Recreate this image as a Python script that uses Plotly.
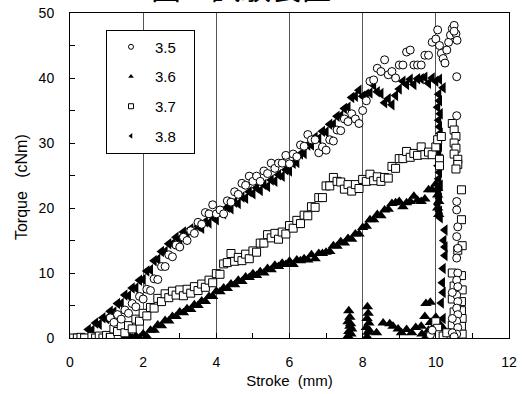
import plotly.graph_objects as go

FONT = "Liberation Sans, Arial, sans-serif"

# ---- 3.5 : open circles -------------------------------------------------
x35 = [1.1, 1.2, 1.3, 1.4, 1.5, 1.6, 1.7, 1.8, 1.9, 2.0,
       2.1, 2.2, 2.3, 2.4, 2.5, 2.6, 2.7, 2.8, 2.9, 3.0,
       3.1, 3.2, 3.3, 3.4, 3.5, 3.6, 3.7, 3.8, 3.9, 4.0,
       4.1, 4.2, 4.3, 4.4, 4.5, 4.6, 4.7, 4.8, 4.9, 5.0,
       5.1, 5.2, 5.3, 5.4, 5.5, 5.6, 5.7, 5.8, 5.9, 6.0,
       6.1, 6.2, 6.3, 6.4, 6.5, 6.6, 6.7, 6.8, 6.9, 7.0,
       7.1, 7.2, 7.3, 7.4, 7.5, 7.6, 7.7, 7.8, 7.9, 8.0,
       8.1, 8.2, 8.3, 8.4, 8.5, 8.6, 8.7, 8.8, 8.9, 9.0,
       9.1, 9.2, 9.3, 9.4, 9.5, 9.6, 9.7, 9.8, 9.9, 10.0,
       10.05, 10.1, 10.15, 10.2, 10.25, 10.3, 10.35, 10.4, 10.45, 10.5,
       10.55, 10.58, 10.5,
       10.57, 10.57, 10.57, 10.57, 10.6, 10.57, 10.6, 10.57, 10.6, 10.57,
       10.6, 10.57, 10.6, 10.57, 10.6, 10.57, 10.6, 10.57, 10.45, 10.45,
       10.45, 10.5, 9.85, 9.9]
y35 = [3.1, 2.4, 3.6, 2.9, 4.3, 3.8, 5.3, 4.8, 6.4, 6.0,
       7.5, 7.3, 9.1, 9.0, 11.0, 11.0, 12.8, 12.5, 14.3, 14.0,
       15.5, 15.0, 16.5, 16.1, 17.8, 17.5, 19.3, 19.1, 20.5, 19.1,
       19.7, 19.1, 21.1, 20.9, 22.5, 22.1, 23.8, 23.5, 24.9, 24.1,
       24.9, 24.1, 25.7, 25.3, 26.9, 26.1, 26.9, 26.9, 28.1, 26.8,
       28.3, 27.9, 29.7, 29.5, 31.3, 30.5, 30.5, 28.5, 29.4, 28.9,
       30.5, 30.3, 32.0, 31.9, 33.7, 33.3, 34.5, 33.7, 33.0, 35.0,
       36.5, 39.5, 39.7, 41.5, 41.0, 42.8, 40.5, 41.0, 40.0, 42.0,
       42.0, 44.0, 44.3, 42.0, 42.0, 42.0, 43.5, 43.5, 45.5, 46.0,
       47.4, 45.0, 43.8, 43.0, 42.3, 44.3, 45.5, 46.6, 47.6, 48.1,
       46.8, 45.8, 47.2,
       40.2, 34.2, 21.0, 19.7, 17.1, 15.6, 13.8, 12.3, 10.0, 8.9,
       7.9, 6.6, 5.6, 4.6, 3.6, 2.6, 1.6, 0.6, 7.0, 3.0,
       0.8, 0.2, 0.5, 1.2]

# ---- 3.6 : filled up-triangles ------------------------------------------
x36 = [1.5, 1.6, 1.7, 1.8, 1.9, 2.0, 2.1, 2.2, 2.3, 2.4,
       2.5, 2.6, 2.7, 2.8, 2.9, 3.0, 3.1, 3.2, 3.3, 3.4,
       3.5, 3.6, 3.7, 3.8, 3.9, 4.0, 4.1, 4.2, 4.3, 4.4,
       4.5, 4.6, 4.7, 4.8, 4.9, 5.0, 5.1, 5.2, 5.3, 5.4,
       5.5, 5.6, 5.7, 5.8, 5.9, 6.0, 6.1, 6.2, 6.3, 6.4,
       6.5, 6.6, 6.7, 6.8, 6.9, 7.0, 7.1, 7.2, 7.3, 7.4,
       7.5, 7.6, 7.7, 7.8, 7.9, 8.0, 8.1, 8.2, 8.3, 8.4,
       8.5, 8.6, 8.7, 8.8, 8.9, 9.0, 9.1, 9.2, 9.3, 9.4,
       9.5, 9.6, 9.7, 9.8, 9.9, 10.0,
       10.05, 10.05, 10.08, 10.05, 10.08,
       7.60, 7.62, 7.65, 7.60, 7.65, 7.62, 7.68, 7.70, 7.67,
       8.12, 8.15, 8.10, 8.17, 8.12, 8.15, 8.13, 8.18,
       8.38, 8.56, 8.74, 8.83, 8.97, 9.06, 9.20, 9.34, 9.45, 9.60,
       9.70, 9.73, 9.62, 9.75, 9.80, 9.85, 9.90, 9.95, 10.00, 10.05,
       10.10, 10.15, 10.20, 9.85]
y36 = [0.1, 0.4, 0.0, 0.3, 0.0, 0.6, 0.2, 1.2, 1.2, 2.0,
       1.9, 2.7, 2.6, 3.3, 3.3, 4.0, 3.9, 4.5, 4.4, 5.1,
       5.0, 5.7, 5.6, 6.4, 6.4, 7.2, 7.1, 7.7, 7.6, 8.3,
       8.2, 8.9, 8.7, 9.4, 9.3, 9.9, 9.6, 10.2, 10.0, 10.7,
       10.5, 11.2, 11.0, 11.5, 11.3, 11.8, 11.3, 12.0, 11.9, 12.2,
       12.0, 12.8, 12.2, 13.0, 13.0, 13.2, 13.3, 14.2, 14.1, 14.8,
       14.6, 15.3, 15.2, 16.0, 16.0, 17.0, 17.2, 18.2, 18.2, 19.0,
       18.8, 19.7, 19.8, 20.7, 20.8, 21.0, 20.2, 20.8, 21.0, 21.8,
       21.2, 21.0, 21.4, 22.8, 22.8, 23.7,
       23.0, 22.0, 21.0, 20.0, 19.0,
       0.3, 1.0, 1.8, 2.5, 3.2, 4.2, 0.6, 1.4, 2.2,
       0.2, 0.9, 1.6, 2.3, 3.0, 3.8, 4.8, 1.2,
       0.8, 2.3, 2.2, 1.8, 1.4, 0.8, 1.3, 0.8, 1.6, 1.8,
       3.3, 5.3, 0.6, 0.3, 1.2, 2.4, 0.5, 1.8, 3.2, 0.8,
       2.2, 0.3, 1.5, 5.5]

# ---- 3.7 : open squares -------------------------------------------------
x37 = [0.1, 0.2, 0.3, 0.4, 0.6, 0.7, 0.8, 0.9, 1.0, 1.1,
       1.2, 1.3, 1.4, 1.5, 1.6, 1.7, 1.8, 1.9, 2.0, 2.1,
       2.2, 2.3, 2.4, 2.5, 2.6, 2.7, 2.8, 2.9, 3.0, 3.1,
       3.2, 3.3, 3.4, 3.5, 3.6, 3.7, 3.8, 3.9, 4.0, 4.1,
       4.2, 4.3, 4.4, 4.5, 4.6, 4.7, 4.8, 4.9, 5.0, 5.1,
       5.2, 5.3, 5.4, 5.5, 5.6, 5.7, 5.8, 5.9, 6.0, 6.1,
       6.2, 6.3, 6.4, 6.5, 6.6, 6.7, 6.8, 6.9, 7.0, 7.1,
       7.2, 7.3, 7.4, 7.5, 7.6, 7.7, 7.8, 7.9, 8.0, 8.1,
       8.2, 8.3, 8.4, 8.5, 8.6, 8.7, 8.8, 8.9, 9.0, 9.1,
       9.2, 9.3, 9.4, 9.5, 9.6, 9.7, 9.8, 9.9, 10.0,
       10.05, 10.1, 10.15, 10.1,
       10.45, 10.5, 10.55, 10.5, 10.55, 10.5, 10.6, 10.6, 10.55, 10.7,
       10.7, 10.72, 10.6, 10.7, 10.72, 10.7, 10.7, 10.72, 10.7, 10.72,
       10.45, 10.5, 10.45, 10.5, 10.45, 10.5, 9.9, 9.95, 10.0, 10.05,
       10.1, 10.2, 10.3]
y37 = [0.0, 0.0, 0.1, 0.0, 0.2, 0.0, 0.3, 0.0, 0.4, 0.1,
       1.4, 1.0, 1.9, 0.8, 1.9, 1.4, 2.9, 2.6, 3.8, 3.4,
       4.7, 4.6, 6.1, 5.6, 6.8, 6.2, 7.2, 6.6, 7.4, 6.5,
       7.5, 6.9, 7.9, 7.3, 8.3, 7.8, 8.9, 8.5, 9.9, 9.8,
       11.4, 11.6, 13.0, 11.8, 12.4, 11.9, 12.9, 12.2, 13.4, 13.2,
       14.6, 14.6, 15.9, 15.4, 16.1, 15.2, 16.3, 16.0, 17.3, 16.9,
       18.1, 17.6, 18.9, 18.8, 20.2, 20.1, 21.6, 21.6, 23.4, 23.4,
       24.7, 24.1, 24.0, 22.9, 23.6, 22.6, 23.6, 23.0, 24.4, 24.1,
       25.2, 24.2, 24.8, 24.1, 24.7, 24.6, 26.4, 26.1, 27.6, 27.6,
       28.7, 27.8, 28.4, 28.1, 29.4, 28.2, 28.6, 28.2, 29.4,
       30.5, 27.5, 31.0, 26.5,
       33.0, 32.0, 31.0, 30.0, 29.2, 28.3, 27.5, 26.7, 26.0, 22.8,
       18.2, 14.2, 13.5, 9.6, 7.4, 5.6, 4.2, 3.0, 1.8, 0.6,
       10.0, 8.0, 6.0, 4.0, 2.0, 0.4, 1.0, 0.2, 2.5, 1.5,
       0.5, 0.3, 0.8]

# ---- 3.8 : filled left-triangles ----------------------------------------
x38 = [0.5, 0.6, 0.7, 0.8, 0.9, 1.0, 1.1, 1.2, 1.3, 1.4,
       1.5, 1.6, 1.7, 1.8, 1.9, 2.0, 2.1, 2.2, 2.3, 2.4,
       2.5, 2.6, 2.7, 2.8, 2.9, 3.0, 3.1, 3.2, 3.3, 3.4,
       3.5, 3.6, 3.7, 3.8, 3.9, 4.0, 4.1, 4.2, 4.3, 4.4,
       4.5, 4.6, 4.7, 4.8, 4.9, 5.0, 5.1, 5.2, 5.3, 5.4,
       5.5, 5.6, 5.7, 5.8, 5.9, 6.0, 6.1, 6.2, 6.3, 6.4,
       6.5, 6.6, 6.7, 6.8, 6.9, 7.0, 7.1, 7.2, 7.3, 7.4,
       7.5, 7.6, 7.7, 7.8, 7.9, 8.0, 8.1, 8.2, 8.3, 8.4,
       8.5, 8.6, 8.7, 8.8, 8.9, 9.0, 9.1, 9.2, 9.3, 9.4,
       9.5, 9.6, 9.7, 9.8, 9.9, 10.0, 10.1, 10.2,
       10.08, 10.10, 10.05, 10.12, 10.08, 10.10, 10.12, 10.06, 10.10, 10.08,
       10.12, 10.06, 10.10, 10.08, 10.12, 10.08, 10.10, 10.06, 10.10, 10.12,
       10.25, 10.22, 10.25, 10.20, 10.18, 10.15, 10.20, 10.10, 10.15, 10.25,
       10.20]
y38 = [1.3, 1.2, 2.3, 2.1, 3.1, 3.0, 4.1, 4.0, 5.3, 5.3,
       6.6, 6.5, 7.7, 7.7, 8.9, 9.0, 10.3, 10.5, 11.9, 12.1,
       13.3, 13.3, 14.5, 14.5, 15.5, 15.3, 16.3, 15.9, 16.8, 16.4,
       17.2, 16.9, 17.9, 17.7, 18.6, 18.2, 19.3, 19.1, 20.1, 19.9,
       20.9, 20.7, 21.7, 21.5, 22.5, 22.2, 23.1, 22.7, 23.6, 23.3,
       24.3, 24.1, 25.1, 24.9, 25.9, 25.7, 26.9, 27.0, 28.3, 28.4,
       29.7, 29.7, 30.9, 30.7, 31.8, 31.7, 32.9, 32.9, 34.1, 34.2,
       35.3, 35.5, 37.0, 37.2, 38.1, 37.2, 37.5, 37.7, 38.9, 37.9,
       37.6, 36.2, 36.8, 35.9, 37.3, 38.3, 39.5, 39.0, 39.8, 39.0,
       39.9, 39.9, 40.1, 39.2, 40.0, 39.5, 39.8, 38.5,
       37.5, 36.5, 35.5, 34.5, 33.5, 32.5, 31.5, 30.5, 29.5, 28.5,
       27.5, 26.5, 25.5, 24.5, 23.5, 22.5, 21.5, 20.5, 19.5, 18.5,
       16.6, 15.0, 12.7, 10.7, 8.5, 5.4, 3.0, 1.5, 0.5, 14.0,
       7.0]

# marker styles shared by the data traces and the legend keys
STYLE = {
    "3.5": dict(symbol="circle", color="white", line=dict(color="black", width=1)),
    "3.6": dict(symbol="triangle-up", color="black", line=dict(width=0)),
    "3.7": dict(symbol="square", color="white", line=dict(color="black", width=1)),
    "3.8": dict(symbol="triangle-left", color="black", line=dict(width=0)),
}
SIZE = {"3.5": 8, "3.6": 10, "3.7": 8, "3.8": 10}
PAD = "&nbsp;&nbsp;&nbsp;"

fig = go.Figure()

# filled series first so the open markers sit on top of them
for name, xs, ys in [("3.8", x38, y38), ("3.6", x36, y36),
                     ("3.7", x37, y37), ("3.5", x35, y35)]:
    fig.add_trace(go.Scatter(
        x=xs, y=ys, mode="markers", name=name, showlegend=False,
        marker=dict(size=SIZE[name], **STYLE[name])))

# small legend keys, one group per series so the rows can be spaced
for rank, name in enumerate(["3.5", "3.6", "3.7", "3.8"], start=1):
    fig.add_trace(go.Scatter(
        x=[None], y=[None], mode="markers", name=name + PAD,
        legendrank=rank, legendgroup=f"k{rank}",
        marker=dict(size=5, **STYLE[name])))

fig.add_annotation(
    text="図1  試験装置", xref="paper", yref="paper", x=0.39, y=1.083,
    xanchor="center", yanchor="middle", showarrow=False,
    font=dict(family="Noto Sans CJK JP", size=30, color="black"))

fig.add_annotation(
    text="Torque&nbsp;&nbsp;&nbsp;(cNm)", xref="paper", yref="paper",
    x=-0.109, y=0.465, xanchor="center", yanchor="middle",
    textangle=-90, showarrow=False,
    font=dict(family=FONT, size=16, color="black"))

fig.update_layout(
    width=527, height=394,
    margin=dict(l=70, r=18, t=13, b=56, autoexpand=False),
    paper_bgcolor="white", plot_bgcolor="white",
    font=dict(family=FONT, size=14, color="black"),
    showlegend=True,
    legend=dict(
        x=0.082, y=0.949, xanchor="left", yanchor="top",
        bgcolor="white", bordercolor="black", borderwidth=1,
        font=dict(family=FONT, size=15, color="black"),
        traceorder="grouped", tracegroupgap=7.2, itemwidth=38,
    ),
    xaxis=dict(
        range=[0, 12], tickmode="array", tickvals=[0, 2, 4, 6, 8, 10, 12],
        ticks="inside", ticklen=5, tickcolor="black", automargin=False,
        showgrid=True, gridcolor="#555555", gridwidth=1, zeroline=False,
        showline=True, linecolor="black", linewidth=1, mirror=True,
        minor=dict(dtick=1, ticks="inside", ticklen=5, tickcolor="black", showgrid=False),
        ticklabelstandoff=11,
        title=dict(text="Stroke&nbsp;&nbsp;(mm)", standoff=6, font=dict(size=15)),
    ),
    yaxis=dict(
        range=[0, 50], tickmode="array", tickvals=[0, 10, 20, 30, 40, 50],
        ticks="inside", ticklen=5, tickcolor="black", automargin=False,
        showgrid=False, zeroline=False,
        showline=True, linecolor="black", linewidth=1, mirror=True,
        minor=dict(dtick=5, ticks="inside", ticklen=5, tickcolor="black", showgrid=False),
        ticklabelstandoff=12,
    ),
)

fig.write_html("out.html")
